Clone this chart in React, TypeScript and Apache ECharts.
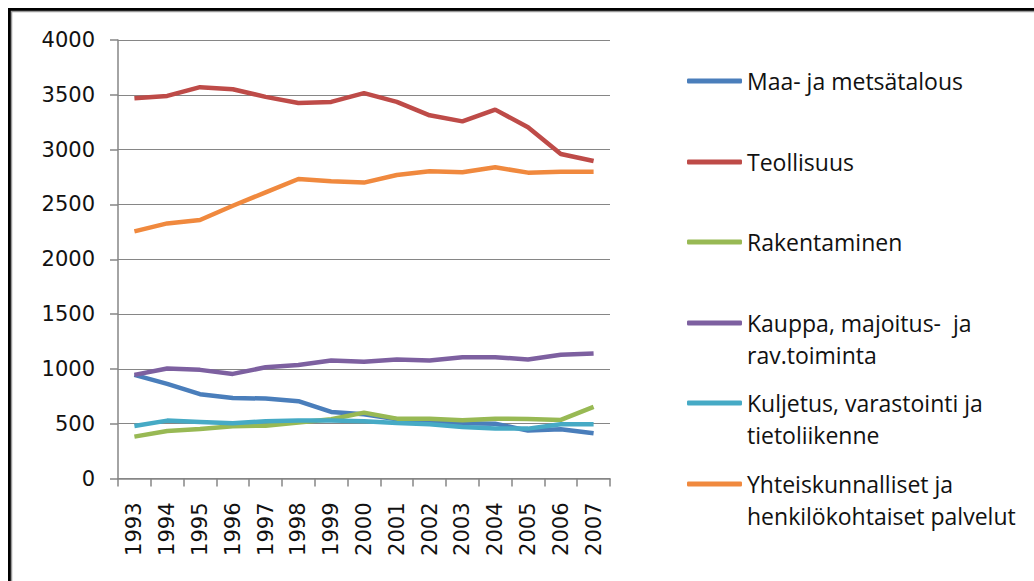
import React, { useEffect, useRef } from "react";
import * as echarts from "echarts";

const years = ["1993","1994","1995","1996","1997","1998","1999","2000","2001","2002","2003","2004","2005","2006","2007"];

const maa = [945, 863, 769, 735, 729, 705, 607, 586, 541, 513, 504, 500, 437, 449, 413];
const teollisuus = [3468, 3490, 3570, 3551, 3481, 3426, 3435, 3515, 3435, 3313, 3258, 3365, 3204, 2960, 2896];
const rakentaminen = [382, 434, 452, 477, 482, 510, 541, 601, 546, 546, 531, 546, 543, 534, 653];
const kauppa = [945, 1003, 991, 954, 1015, 1036, 1076, 1064, 1085, 1076, 1107, 1107, 1085, 1128, 1140];
const kuljetus = [479, 528, 516, 504, 522, 528, 528, 522, 507, 495, 470, 455, 455, 495, 495];
const yhteis = [2254, 2327, 2358, 2488, 2610, 2732, 2711, 2699, 2769, 2802, 2793, 2839, 2790, 2799, 2799];

const names = [
  "Maa- ja metsätalous",
  "Teollisuus",
  "Rakentaminen",
  "Kauppa, majoitus-  ja\nrav.toiminta",
  "Kuljetus, varastointi ja\ntietoliikenne",
  "Yhteiskunnalliset ja\nhenkilökohtaiset palvelut",
];
const values = [maa, teollisuus, rakentaminen, kauppa, kuljetus, yhteis];
const colors = ["#4A7EBB", "#BE4B48", "#98B954", "#7D60A0", "#46AAC5", "#F0893E"];
const legendY = [81, 162, 242, 323, 403, 484];

export default function App() {
  const ref = useRef<HTMLDivElement>(null);
  useEffect(() => {
    const chart = echarts.init(ref.current!, null, { renderer: "svg" });
    const LH = 32;
    const legends = names.map((n, i) => {
      const twoLine = n.includes("\n");
      return {
        orient: "vertical",
        left: 687,
        top: twoLine ? legendY[i] - 48 : legendY[i] - 16,
        padding: 0,
        itemWidth: 55,
        itemHeight: 5,
        icon: "roundRect",
        selectedMode: false,
        data: [n],
        formatter: (name: string) => (twoLine ? "\n" + name : name),
        textStyle: {
          fontFamily: "Open Sans",
          fontSize: 23,
          color: "#111",
          lineHeight: LH,
        },
      };
    });
    chart.setOption({
      animation: false,
      backgroundColor: "#fff",
      color: colors,
      legend: legends,
      graphic: [
        { type: "rect", shape: { x: 9.5, y: 9.5, width: 1100, height: 700 }, style: { fill: "none", stroke: "#000", lineWidth: 3 }, silent: true },
        { type: "rect", shape: { x: 11.5, y: 11.5, width: 1100, height: 700 }, style: { fill: "none", stroke: "#999", lineWidth: 1.5 }, silent: true },
      ],
      grid: { left: 118, right: 424, top: 40, bottom: 102.5 },
      xAxis: {
        type: "category",
        data: years,
        boundaryGap: true,
        axisLine: { lineStyle: { color: "#868686", width: 1.5 } },
        axisTick: { show: true, length: 8, alignWithLabel: false, lineStyle: { color: "#868686", width: 1.5 } },
        axisLabel: { rotate: 90, margin: 24, fontFamily: "DejaVu Sans", fontSize: 21, color: "#111", interval: 0 },
      },
      yAxis: {
        type: "value",
        min: 0,
        max: 4000,
        interval: 500,
        axisLine: { show: true, lineStyle: { color: "#868686", width: 1.5 } },
        axisTick: { show: true, length: 8, lineStyle: { color: "#868686", width: 1.5 } },
        axisLabel: { margin: 23, fontFamily: "DejaVu Sans", fontSize: 21, color: "#111", formatter: (v: number) => String(v) },
        splitLine: { lineStyle: { color: "#868686", width: 1.2 } },
      },
      series: names.map((n, i) => ({
        type: "line",
        name: n,
        data: values[i],
        symbol: "none",
        lineStyle: { width: 4.5, color: colors[i] },
        itemStyle: { color: colors[i] },
      })),
    });
    return () => chart.dispose();
  }, []);
  return <div ref={ref} style={{ position: "fixed", left: 0, top: 0, width: 1034, height: 581 }} />;
}
